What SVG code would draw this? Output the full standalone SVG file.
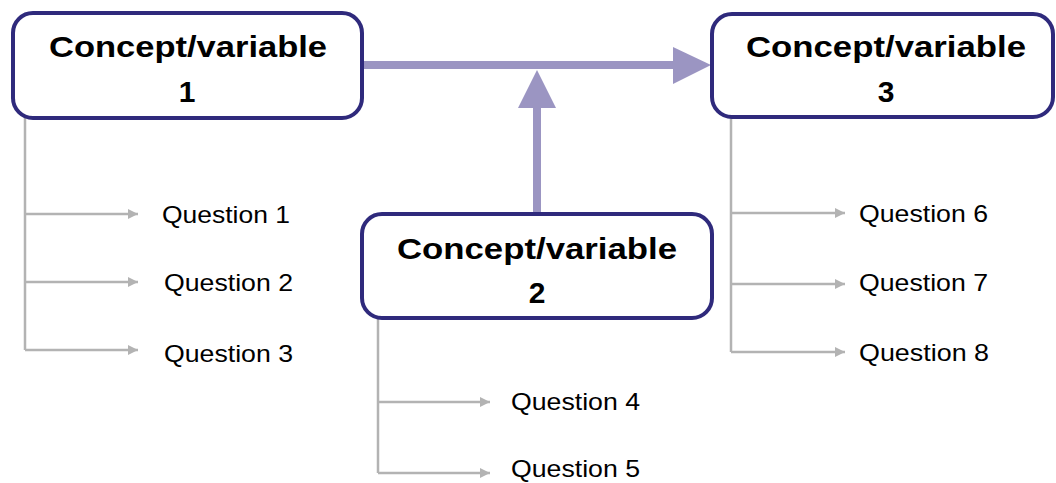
<svg xmlns="http://www.w3.org/2000/svg" width="1056" height="483" viewBox="0 0 1056 483">
<style>
.box{fill:#ffffff;stroke:#2f2a7c;stroke-width:4}
.title{font-family:"Liberation Sans",Arial,sans-serif;font-weight:bold;font-size:30px;fill:#000;text-anchor:middle}
.q{font-family:"Liberation Sans",Arial,sans-serif;font-size:24.5px;fill:#000}
.tree{fill:none;stroke:#b3b3b3;stroke-width:2.5}
.main{fill:none;stroke:#9b95c2;stroke-width:8}
</style>
<defs>
<marker id="ga" markerWidth="10" markerHeight="10" refX="10" refY="5" orient="auto" markerUnits="userSpaceOnUse">
<path d="M0,0 L10,5 L0,10 Z" fill="#b3b3b3"/>
</marker>
</defs>
<g id="connectors">
<line class="main" x1="362" y1="65" x2="676" y2="65"/>
<polygon points="673,47 711,65 673,84" fill="#9b95c2"/>
<line class="main" x1="537" y1="214" x2="537" y2="104"/>
<polygon points="518,108 537,70 556,108" fill="#9b95c2"/>
<path class="tree" d="M25,118 V350"/>
<path class="tree" d="M25,214 H138" marker-end="url(#ga)"/>
<path class="tree" d="M25,282 H138" marker-end="url(#ga)"/>
<path class="tree" d="M25,350 H138" marker-end="url(#ga)"/>
<path class="tree" d="M378,318 V473"/>
<path class="tree" d="M378,402 H490" marker-end="url(#ga)"/>
<path class="tree" d="M378,473 H490" marker-end="url(#ga)"/>
<path class="tree" d="M731,117 V352"/>
<path class="tree" d="M731,213 H845" marker-end="url(#ga)"/>
<path class="tree" d="M731,284 H845" marker-end="url(#ga)"/>
<path class="tree" d="M731,352 H845" marker-end="url(#ga)"/>
</g>
<g id="node1">
<rect class="box" x="13" y="13" width="349" height="105" rx="20"/>
<text class="title" x="188" y="57" textLength="278" lengthAdjust="spacingAndGlyphs">Concept/variable</text>
<text class="title" x="187" y="102">1</text>
</g>
<g id="node2">
<rect class="box" x="362" y="214" width="350" height="104" rx="20"/>
<text class="title" x="537" y="259" textLength="280" lengthAdjust="spacingAndGlyphs">Concept/variable</text>
<text class="title" x="537" y="303">2</text>
</g>
<g id="node3">
<rect class="box" x="712" y="14" width="341" height="103" rx="20"/>
<text class="title" x="886" y="57" textLength="280" lengthAdjust="spacingAndGlyphs">Concept/variable</text>
<text class="title" x="886" y="102">3</text>
</g>
<g id="questions">
<text class="q" x="162" y="223" textLength="128" lengthAdjust="spacingAndGlyphs">Question 1</text>
<text class="q" x="164" y="291" textLength="129" lengthAdjust="spacingAndGlyphs">Question 2</text>
<text class="q" x="164" y="362" textLength="129" lengthAdjust="spacingAndGlyphs">Question 3</text>
<text class="q" x="511" y="410" textLength="129" lengthAdjust="spacingAndGlyphs">Question 4</text>
<text class="q" x="511" y="477" textLength="129" lengthAdjust="spacingAndGlyphs">Question 5</text>
<text class="q" x="859" y="222" textLength="129" lengthAdjust="spacingAndGlyphs">Question 6</text>
<text class="q" x="859" y="291" textLength="129" lengthAdjust="spacingAndGlyphs">Question 7</text>
<text class="q" x="859" y="361" textLength="130" lengthAdjust="spacingAndGlyphs">Question 8</text>
</g>
</svg>
